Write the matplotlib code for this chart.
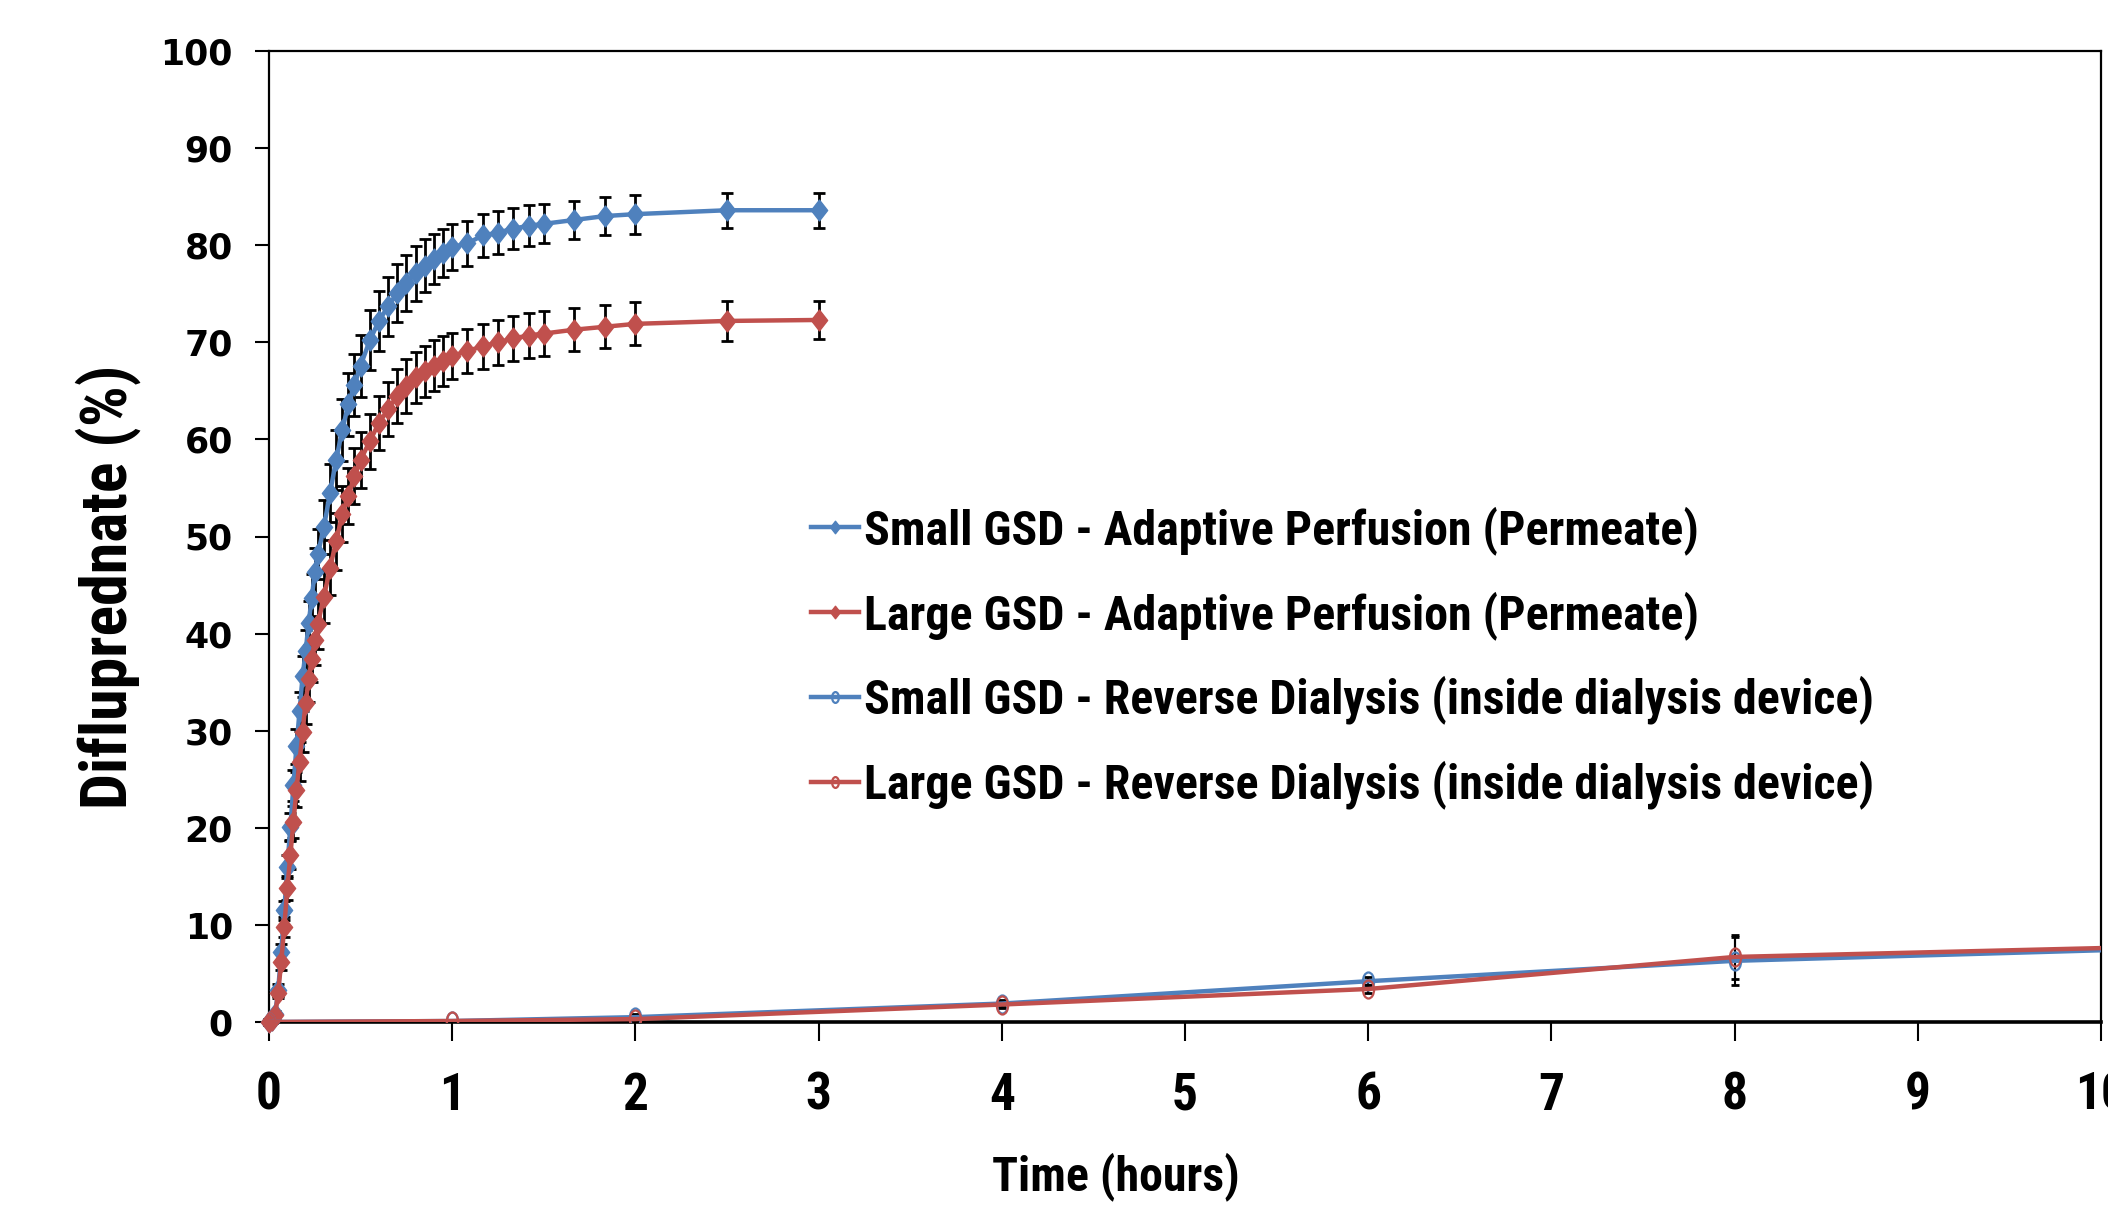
import matplotlib
matplotlib.use("Agg")
import matplotlib.pyplot as plt
from matplotlib.path import Path
from matplotlib import font_manager as fm
import numpy as np

# ---------------- data ----------------
time_min = [0, 1, 2, 3, 4, 5, 6, 7, 8, 9, 10, 11, 12, 13, 14, 15, 16, 18, 20, 22, 24, 26, 28, 30,
            33, 36, 39, 42, 45, 48, 51, 54, 57, 60, 65, 70, 75, 80, 85, 90, 100, 110, 120, 150, 180]
small_ap = [0, 0.2, 0.8, 3.3, 7.2, 11.5, 16.0, 20.1, 24.4, 28.4, 32.0, 35.6, 38.2, 41.1, 43.7, 46.3,
            48.2, 51.0, 54.5, 57.9, 61.0, 63.6, 65.6, 67.6, 70.2, 72.2, 73.7, 75.1, 76.1, 77.1, 77.9,
            78.6, 79.2, 79.8, 80.2, 81.0, 81.3, 81.7, 82.0, 82.2, 82.6, 83.0, 83.2, 83.6, 83.6]
small_ap_err = [0.3, 0.3, 0.3, 0.6, 0.8, 1.0, 1.2, 1.4, 1.6, 1.8, 2.0, 2.1, 2.2, 2.3, 2.4, 2.5, 2.6,
                2.8, 3.0, 3.1, 3.2, 3.2, 3.2, 3.2, 3.1, 3.1, 3.0, 3.0, 2.9, 2.8, 2.7, 2.6, 2.5, 2.4,
                2.3, 2.2, 2.2, 2.1, 2.1, 2.0, 2.0, 2.0, 2.0, 1.8, 1.8]
large_ap = [0, 0.2, 0.7, 3.0, 6.2, 9.8, 13.8, 17.2, 20.6, 23.9, 26.8, 29.9, 32.9, 35.3, 37.4, 39.3,
            41.0, 43.8, 46.8, 49.5, 52.3, 54.2, 56.2, 57.9, 59.8, 61.7, 63.1, 64.5, 65.5, 66.4, 67.0,
            67.6, 68.1, 68.6, 69.1, 69.6, 70.0, 70.4, 70.7, 70.9, 71.3, 71.6, 71.9, 72.2, 72.3]
large_ap_err = [0.3, 0.3, 0.3, 0.5, 0.8, 1.0, 1.2, 1.4, 1.6, 1.8, 2.0, 2.1, 2.2, 2.3, 2.4, 2.5, 2.6,
                2.7, 2.8, 2.9, 2.9, 2.9, 2.9, 2.9, 2.8, 2.8, 2.8, 2.8, 2.8, 2.6, 2.6, 2.6, 2.6, 2.4,
                2.3, 2.3, 2.3, 2.3, 2.3, 2.3, 2.2, 2.2, 2.2, 2.1, 2.0]

rd_time = [0, 1, 2, 4, 6, 8, 24]
small_rd = [0, 0.1, 0.5, 1.9, 4.2, 6.3, 15.0]
small_rd_err = [0, 0.1, 0.3, 0.4, 0.4, 2.5, 1.0]
large_rd = [0, 0.1, 0.3, 1.8, 3.4, 6.7, 14.0]
large_rd_err = [0, 0.1, 0.3, 0.4, 0.4, 2.3, 1.0]

labels = ["Small GSD - Adaptive Perfusion (Permeate)",
          "Large GSD - Adaptive Perfusion (Permeate)",
          "Small GSD - Reverse Dialysis (inside dialysis device)",
          "Large GSD - Reverse Dialysis (inside dialysis device)"]
x_ticks = list(range(0, 11))
y_ticks = list(range(0, 101, 10))

BLUE = "#4F81BD"
RED = "#C0504D"

# ---------------- fonts ----------------
def weight_num(w):
    if isinstance(w, (int, float)):
        return w
    return fm.weight_dict.get(str(w).lower(), 400)

bold_fams = {f.name for f in fm.fontManager.ttflist if weight_num(f.weight) >= 700}
NARROW = "Liberation Sans"
for cand in ["Arial Narrow", "Liberation Sans Narrow", "Roboto Condensed", "PT Sans Narrow",
             "Fira Sans Condensed", "IBM Plex Sans Condensed", "Encode Sans Condensed",
             "Asap Condensed", "Archivo Narrow"]:
    if cand in bold_fams:
        NARROW = cand
        break

# ---------------- markers ----------------
diamond = Path([(0, 1), (0.78, 0), (0, -1), (-0.78, 0), (0, 1)],
               [Path.MOVETO, Path.LINETO, Path.LINETO, Path.LINETO, Path.CLOSEPOLY])
circ = Path.unit_circle()
ellipse = Path(circ.vertices * np.array([0.62, 1.0]), circ.codes)

fig = plt.figure(figsize=(21.08, 12.11), dpi=100)
ax = fig.add_axes([269 / 2108, 1 - 1022 / 1211, (2101 - 269) / 2108, (1022 - 51) / 1211])

t_h = np.array(time_min) / 60.0

for y, e, c in [(small_ap, small_ap_err, BLUE), (large_ap, large_ap_err, RED)]:
    ax.errorbar(t_h, y, yerr=e, fmt="none", ecolor="black", elinewidth=2.0,
                capsize=4.0, capthick=2.0, zorder=2, clip_on=False)
for y, e, c in [(small_rd, small_rd_err, BLUE), (large_rd, large_rd_err, RED)]:
    ax.errorbar(rd_time, y, yerr=e, fmt="none", ecolor="black", elinewidth=1.5,
                capsize=3.0, capthick=2.0, zorder=2)

l1, = ax.plot(t_h, small_ap, color=BLUE, lw=3.2, marker=diamond, ms=15, mec=BLUE,
              mfc=BLUE, zorder=3, clip_on=False)
l2, = ax.plot(t_h, large_ap, color=RED, lw=3.2, marker=diamond, ms=15, mec=RED,
              mfc=RED, zorder=3, clip_on=False)
l3, = ax.plot(rd_time, small_rd, color=BLUE, lw=3.2, marker=ellipse, ms=13, mec=BLUE,
              mfc="none", mew=1.6, zorder=3)
l4, = ax.plot(rd_time, large_rd, color=RED, lw=3.2, marker=ellipse, ms=13, mec=RED,
              mfc="none", mew=1.6, zorder=3)

ax.set_xlim(0, 10)
ax.set_ylim(0, 100)
ax.set_xticks(x_ticks)
ax.set_yticks(y_ticks)
ax.set_xticklabels([str(v) for v in x_ticks], fontfamily=NARROW, fontweight="bold",
                   fontsize=37)
ax.set_yticklabels([str(v) for v in y_ticks], fontfamily="DejaVu Sans", fontweight="bold",
                   fontsize=25)
ax.tick_params(axis="y", direction="out", length=10, width=1.5, pad=16)
ax.tick_params(axis="x", direction="out", length=14, width=1.5, pad=21)
for s in ax.spines.values():
    s.set_linewidth(1.6)
ax.spines["bottom"].set_linewidth(2.6)

ax.set_xlabel("Time (hours)", fontfamily=NARROW, fontweight="bold", fontsize=34.5)
ax.xaxis.set_label_coords(0.462, -0.134)
ax.set_ylabel("Difluprednate (%)", fontfamily=NARROW, fontweight="bold", fontsize=46)
ax.yaxis.set_label_coords(-0.070, 0.448)

leg = ax.legend([l1, l2, l3, l4], labels, loc="upper left",
                bbox_to_anchor=((811 - 269) / 1832, (1022 - 506) / 971),
                frameon=False, borderpad=0, borderaxespad=0, handlelength=1.0,
                handletextpad=0.1, labelspacing=0.75, markerscale=0.6,
                prop={"family": NARROW, "weight": "bold", "size": 34.5})

fig.savefig("out.png", dpi=100)
